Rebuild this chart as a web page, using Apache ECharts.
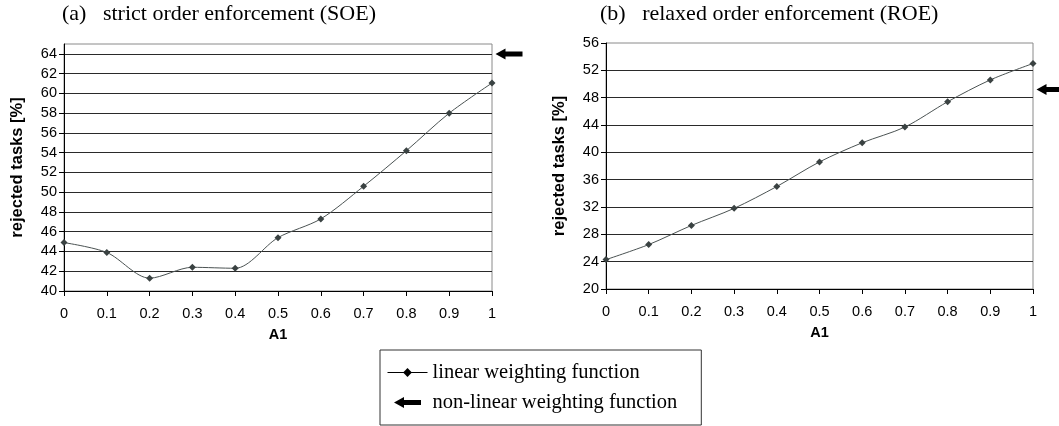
<!DOCTYPE html>
<html>
<head>
<meta charset="utf-8">
<script src="https://cdn.jsdelivr.net/npm/echarts@6/dist/echarts.min.js"></script>
<style>
  html, body { margin: 0; padding: 0; background: #fff; }
  #main { width: 1059px; height: 426px; }
</style>
</head>
<body>
<div id="main"></div>
<script>
// A1 values along the x axis
const xLabels = ["0", "0.1", "0.2", "0.3", "0.4", "0.5", "0.6", "0.7", "0.8", "0.9", "1"];
// rejected tasks [%], linear weighting function
const soeLinear = [44.9, 43.9, 41.3, 42.4, 42.3, 45.4, 47.3, 50.6, 54.2, 58.0, 61.05];
const roeLinear = [24.3, 26.5, 29.3, 31.8, 35.0, 38.6, 41.4, 43.7, 47.4, 50.6, 53.0];
// rejected tasks [%], non-linear weighting function (single value, shown as arrow)
const soeNonLinear = 64;
const roeNonLinear = 49.2;

const serif = "Liberation Serif";
const sans = "Liberation Sans";
const arrowPath = "path://M0,5.5 L10,0 L10,3 L27,3 L27,8 L10,8 L10,11 Z";
const lineColor = "#4b5353";

const chart = echarts.init(document.getElementById("main"));

function yAxisOf(gridIndex, min, max, interval) {
  return {
    type: "value",
    gridIndex: gridIndex,
    min: min,
    max: max,
    interval: interval,
    name: "rejected tasks [%]",
    nameLocation: "middle",
    nameGap: 38,
    nameTextStyle: { fontFamily: sans, fontWeight: "bold", fontSize: 16.5, color: "#000" },
    axisLine: { show: true, lineStyle: { color: "#000", width: 1 } },
    axisTick: { show: true, length: 5, lineStyle: { color: "#000" } },
    axisLabel: { fontFamily: sans, fontSize: 14.5, color: "#000", margin: 7, showMaxLabel: max % interval === 0 },
    splitLine: { show: true, showMaxLine: false, showMinLine: false, lineStyle: { color: "#2a2a2a", width: 1 } },
  };
}

function xAxisOf(gridIndex) {
  return {
    type: "category",
    gridIndex: gridIndex,
    data: xLabels,
    boundaryGap: false,
    name: "A1",
    nameLocation: "middle",
    nameGap: 36,
    nameTextStyle: { fontFamily: sans, fontWeight: "bold", fontSize: 14.5, color: "#000" },
    axisLine: { show: true, lineStyle: { color: "#000", width: 1 } },
    axisTick: { show: true, length: 5, alignWithLabel: true, lineStyle: { color: "#000" } },
    axisLabel: { fontFamily: sans, fontSize: 14.5, color: "#000", margin: 15, interval: 0 },
    splitLine: { show: false },
  };
}

function lineSeries(idx, data) {
  return {
    name: "linear weighting function",
    type: "line",
    xAxisIndex: idx,
    yAxisIndex: idx,
    data: data,
    smooth: 0.3,
    symbol: "diamond",
    symbolSize: 7,
    itemStyle: { color: "#3a4242" },
    lineStyle: { color: lineColor, width: 1 },
  };
}

function arrowSeries(idx, value) {
  return {
    name: "non-linear weighting function",
    type: "scatter",
    xAxisIndex: idx,
    yAxisIndex: idx,
    data: [["1", value]],
    symbol: arrowPath,
    symbolSize: [27, 11],
    symbolOffset: [17, 0],
    clip: false,
    itemStyle: { color: "#000", opacity: 1 },
    z: 5,
  };
}

const option = {
  animation: false,
  backgroundColor: "#fff",
  title: [
    {
      text: "(a)   strict order enforcement (SOE)",
      left: 62,
      top: 3,
      padding: 0,
      textStyle: { fontFamily: serif, fontWeight: "normal", fontSize: 22, color: "#000" },
    },
    {
      text: "(b)   relaxed order enforcement (ROE)",
      left: 600,
      top: 3,
      padding: 0,
      textStyle: { fontFamily: serif, fontWeight: "normal", fontSize: 22, color: "#000" },
    },
  ],
  legend: {
    orient: "vertical",
    left: 380,
    top: 350,
    padding: [12, 24, 12, 7],
    itemWidth: 40,
    itemHeight: 11,
    itemGap: 9,
    borderColor: "#333",
    borderWidth: 1,
    borderRadius: 0,
    selectedMode: false,
    textStyle: { fontFamily: serif, fontSize: 20.5, color: "#000" },
    data: [
      { name: "linear weighting function", itemStyle: { color: "#000" }, lineStyle: { color: "#000", width: 1 } },
      { name: "non-linear weighting function", icon: arrowPath, itemStyle: { color: "#000", opacity: 1 } },
    ],
  },
  grid: [
    { left: 64, top: 44, width: 428, height: 247, show: true, borderColor: "#8a8a8a", borderWidth: 1 },
    { left: 606, top: 43, width: 427, height: 246, show: true, borderColor: "#8a8a8a", borderWidth: 1 },
  ],
  xAxis: [xAxisOf(0), xAxisOf(1)],
  yAxis: [yAxisOf(0, 40, 65, 2), yAxisOf(1, 20, 56, 4)],
  series: [
    lineSeries(0, soeLinear),
    lineSeries(1, roeLinear),
    arrowSeries(0, soeNonLinear),
    arrowSeries(1, roeNonLinear),
  ],
};

chart.setOption(option);
</script>
</body>
</html>
